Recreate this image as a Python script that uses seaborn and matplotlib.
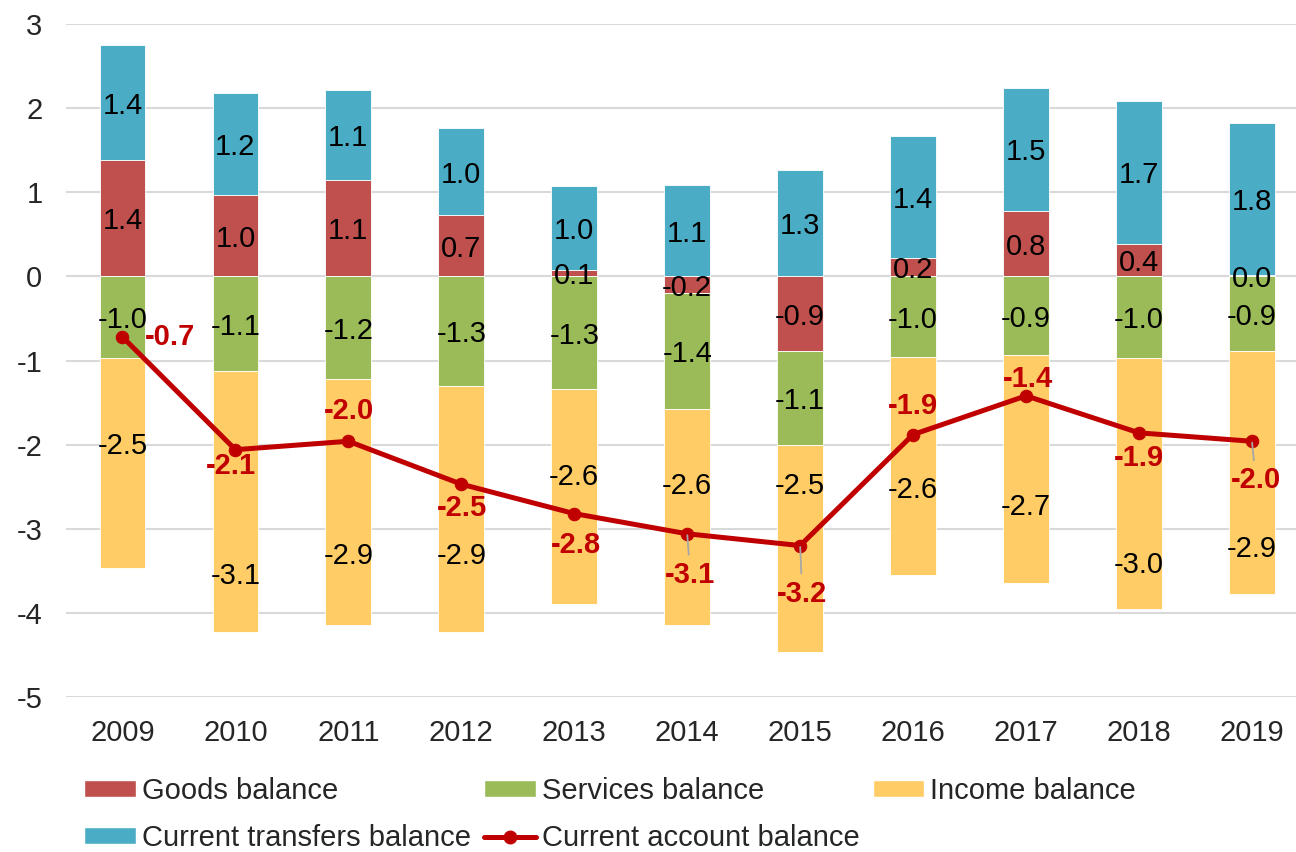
import numpy as np
import pandas as pd
import matplotlib
matplotlib.use("Agg")
import matplotlib.pyplot as plt
import seaborn as sns
from matplotlib.patches import Patch
from matplotlib.lines import Line2D

years = ["2009", "2010", "2011", "2012", "2013", "2014", "2015", "2016", "2017", "2018", "2019"]
goods = [1.38, 0.97, 1.14, 0.73, 0.07, -0.20, -0.89, 0.22, 0.78, 0.39, 0.02]
transfers = [1.37, 1.21, 1.07, 1.03, 1.01, 1.09, 1.26, 1.45, 1.46, 1.70, 1.80]
services = [-0.97, -1.13, -1.22, -1.30, -1.34, -1.38, -1.11, -0.96, -0.94, -0.97, -0.89]
income = [-2.50, -3.10, -2.93, -2.93, -2.56, -2.57, -2.46, -2.59, -2.71, -2.98, -2.88]
current_account = [-0.72, -2.06, -1.96, -2.47, -2.82, -3.06, -3.20, -1.88, -1.42, -1.86, -1.96]

# income labels were moved by hand in the original (y in data units)
income_label_y = [-1.98, -3.53, -3.29, -3.29, -2.35, -2.46, -2.46, -2.50, -2.71, -3.39, -3.21]
# current account label offsets (pixels dx, dy)
ca_offsets = [(48, 0), (-4, -16), (1, 30), (1, -24), (2, -31), (3, -41),
              (2, -48), (0, 29), (2, 17), (0, -25), (4, -39)]
leader = [False, False, False, False, False, True, True, False, False, False, True]

c_goods = "#C0504D"
c_serv = "#9BBB59"
c_inc = "#FFCC66"
c_trans = "#4BACC6"
c_ca = "#C00000"

sns.set_theme(style="white")
plt.rcParams["font.family"] = ["Liberation Sans", "DejaVu Sans"]
plt.rcParams["axes.unicode_minus"] = False

df = pd.DataFrame({"year": years, "goods": goods, "transfers": transfers,
                   "services": services, "income": income, "ca": current_account})
df["x"] = np.arange(len(df))
g = df["goods"].to_numpy()
df["b_trans"] = np.maximum(g, 0)
df["b_serv"] = np.minimum(g, 0)
df["b_inc"] = df["b_serv"] + df["services"]

fig = plt.figure(figsize=(12.96, 8.52), dpi=100)
ax = fig.add_axes([66 / 1296, 1 - 697 / 852, 1 - 66 / 1296, (697 - 24) / 852])

w = 0.405
fs = 21
ax.bar(df["x"], df["goods"], width=w, color=c_goods, edgecolor="white", linewidth=0.6, zorder=2)
ax.bar(df["x"], df["transfers"], bottom=df["b_trans"], width=w, color=c_trans,
       edgecolor="white", linewidth=0.6, zorder=2)
ax.bar(df["x"], df["services"], bottom=df["b_serv"], width=w, color=c_serv,
       edgecolor="white", linewidth=0.6, zorder=2)
ax.bar(df["x"], df["income"], bottom=df["b_inc"], width=w, color=c_inc,
       edgecolor="white", linewidth=0.6, zorder=2)

# segment labels
for i, r in df.iterrows():
    for val, ypos in [(r["goods"], r["goods"] / 2),
                      (r["transfers"], r["b_trans"] + r["transfers"] / 2),
                      (r["services"], r["b_serv"] + r["services"] / 2),
                      (r["income"], income_label_y[i])]:
        ax.annotate(f"{val:.1f}", xy=(r["x"], ypos), xytext=(0, -3),
                    textcoords="offset pixels", ha="center", va="center",
                    fontsize=fs, color="black", zorder=3)

sns.lineplot(data=df, x="x", y="ca", ax=ax, color=c_ca, linewidth=3.6,
             marker="o", markersize=9, markeredgecolor=c_ca, zorder=4)

for i, r in df.iterrows():
    dx, dy = ca_offsets[i]
    props = None
    if leader[i]:
        props = dict(arrowstyle="-", color="#A6A6A6", lw=1.3, shrinkA=2, shrinkB=1)
    ax.annotate(f"{r['ca']:.1f}", xy=(r["x"], r["ca"]), xytext=(dx, dy),
                textcoords="offset pixels", ha="center", va="center",
                fontsize=fs, fontweight="bold", color=c_ca, zorder=5,
                arrowprops=props)

ax.set_xlim(-0.5, 10.39)
ax.set_ylim(-5, 3)
ax.set_yticks(range(-5, 4))
ax.set_xticks(df["x"])
ax.set_xticklabels(years)
ax.set_xlabel("")
ax.set_ylabel("")
ax.tick_params(axis="y", length=0, pad=17, labelsize=fs)
ax.tick_params(axis="x", length=0, pad=16, labelsize=fs)
ax.grid(axis="y", color="#D9D9D9", linewidth=1.5, zorder=0)
ax.set_axisbelow(True)
for s in ax.spines.values():
    s.set_visible(False)
if ax.get_legend() is not None:
    ax.get_legend().remove()

# legend fills by column, so order the handles to read row by row
handles = [
    Patch(facecolor=c_goods, label="Goods balance"),
    Patch(facecolor=c_trans, label="Current transfers balance"),
    Patch(facecolor=c_serv, label="Services balance"),
    Line2D([0], [0], color=c_ca, lw=3.6, marker="o", markersize=9, label="Current account balance"),
    Patch(facecolor=c_inc, label="Income balance"),
]
fig.legend(handles=handles, loc="upper left", bbox_to_anchor=(84 / 1296, 1 - 777 / 852),
           ncol=3, frameon=False, fontsize=fs, handlelength=1.78, handleheight=0.52,
           handletextpad=0.2, columnspacing=0.45, labelspacing=0.66,
           borderpad=0, borderaxespad=0)

fig.savefig("out.png", dpi=100)
